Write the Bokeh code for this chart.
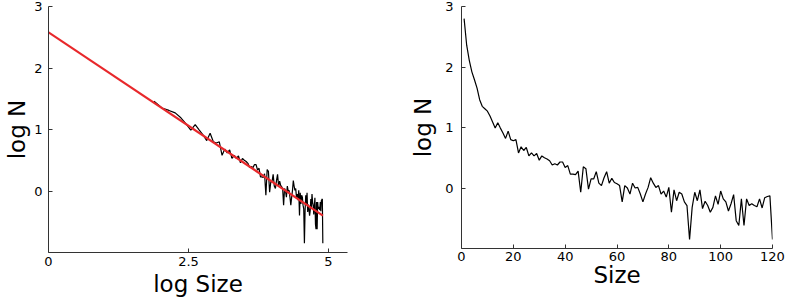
import numpy as np
from bokeh.plotting import figure
from bokeh.layouts import row
from bokeh.models import FixedTicker, Range1d
from bokeh.embed import file_html
from bokeh.resources import INLINE

# ---- data ----
size = list(range(1, 121))
log_n = [2.80, 2.36, 2.11, 1.92, 1.79, 1.65, 1.46, 1.35, 1.31, 1.27,
         1.19, 1.09, 0.99, 1.08, 0.99, 0.91, 0.82, 0.94, 0.80, 0.78,
         0.80, 0.58, 0.68, 0.62, 0.67, 0.53, 0.58, 0.53, 0.57, 0.46,
         0.53, 0.50, 0.48, 0.45, 0.38, 0.40, 0.38, 0.43, 0.43, 0.34,
         0.37, 0.23, 0.23, 0.22, 0.28, -0.07, 0.35, 0.32, -0.02, 0.15,
         0.15, 0.27, 0.08, 0.04, 0.17, 0.27, 0.08, 0.16, 0.09, 0.07,
         0.04, -0.23, 0.04, 0.00, -0.10, 0.08, 0.00, 0.01, -0.10, -0.23,
         -0.10, 0.01, 0.17, 0.08, 0.01, 0.04, -0.10, -0.05, -0.15, 0.01,
         -0.40, -0.03, -0.21, -0.07, -0.10, -0.23, -0.29, -0.85, -0.32, -0.07,
         -0.21, -0.03, -0.34, -0.22, -0.29, -0.40, -0.32, -0.13, -0.27, -0.05,
         -0.18, -0.23, -0.38, -0.26, -0.11, -0.54, -0.62, -0.18, -0.62, -0.18,
         -0.29, -0.26, -0.29, -0.31, -0.18, -0.33, -0.16, -0.14, -0.13, -0.85]

# log-log panel: sizes from 7 upward, on the log scale
loglog_start = 6
log_gain = 1.061
log_shift = -0.18
fit_x = [0.0, 4.9]
fit_y = [2.58, -0.40]

y_ticks = [0, 1, 2, 3]
x_ticks_left = [0, 2.5, 5]
x_ticks_right = [0, 20, 40, 60, 80, 100, 120]

log_size = log_gain * np.log(np.array(size[loglog_start:], dtype=float)) + log_shift
log_n_left = log_n[loglog_start:]

FONT = "DejaVu Sans"
AX = "#333333"


def style(p, xticks):
    p.xaxis.ticker = FixedTicker(ticks=xticks)
    p.yaxis.ticker = FixedTicker(ticks=y_ticks)
    p.xgrid.visible = False
    p.ygrid.visible = False
    p.outline_line_color = None
    for ax in (p.xaxis[0], p.yaxis[0]):
        ax.major_tick_in = 4
        ax.major_tick_out = 0
        ax.minor_tick_line_color = None
        ax.axis_line_color = AX
        ax.major_tick_line_color = AX
        ax.major_label_text_font = FONT
        ax.major_label_text_font_size = "13px"
        ax.major_label_text_color = "black"
        ax.axis_label_text_font = FONT
        ax.axis_label_text_font_size = "23px"
        ax.axis_label_text_font_style = "normal"
        ax.axis_label_text_color = "black"
    p.yaxis.major_label_overrides = {0: "0", 1: "1", 2: "2", 3: "3"}


p1 = figure(width=360, height=300, output_backend="svg", toolbar_location=None,
            x_range=Range1d(0, 5.34), y_range=Range1d(-1, 3),
            min_border_left=48, min_border_right=13, min_border_top=6, min_border_bottom=48,
            x_axis_label="log Size", y_axis_label="log N")
p1.line(log_size, log_n_left, line_color="black", line_width=1.2)
p1.line(fit_x, fit_y, line_color="#e8282b", line_width=2.2)
style(p1, x_ticks_left)
p1.yaxis.major_label_standoff = 6
p1.yaxis.axis_label_standoff = 1
p1.xaxis.major_label_standoff = 4
p1.xaxis.axis_label_standoff = 2
p1.xaxis.major_label_overrides = {0: "0", 2.5: "2.5", 5: "5"}

p2 = figure(width=425, height=296, output_backend="svg", toolbar_location=None,
            x_range=Range1d(0, 120), y_range=Range1d(-1, 3),
            min_border_left=101, min_border_right=13, min_border_top=1, min_border_bottom=48,
            x_axis_label="Size", y_axis_label="log N")
p2.line(size, log_n, line_color="black", line_width=1.2)
style(p2, x_ticks_right)
p2.yaxis.major_label_standoff = 8
p2.yaxis.axis_label_standoff = 6
p2.xaxis.major_label_standoff = 3
p2.xaxis.axis_label_standoff = -2

layout = row(p1, p2)
open("out.html", "w").write(file_html(layout, INLINE))
